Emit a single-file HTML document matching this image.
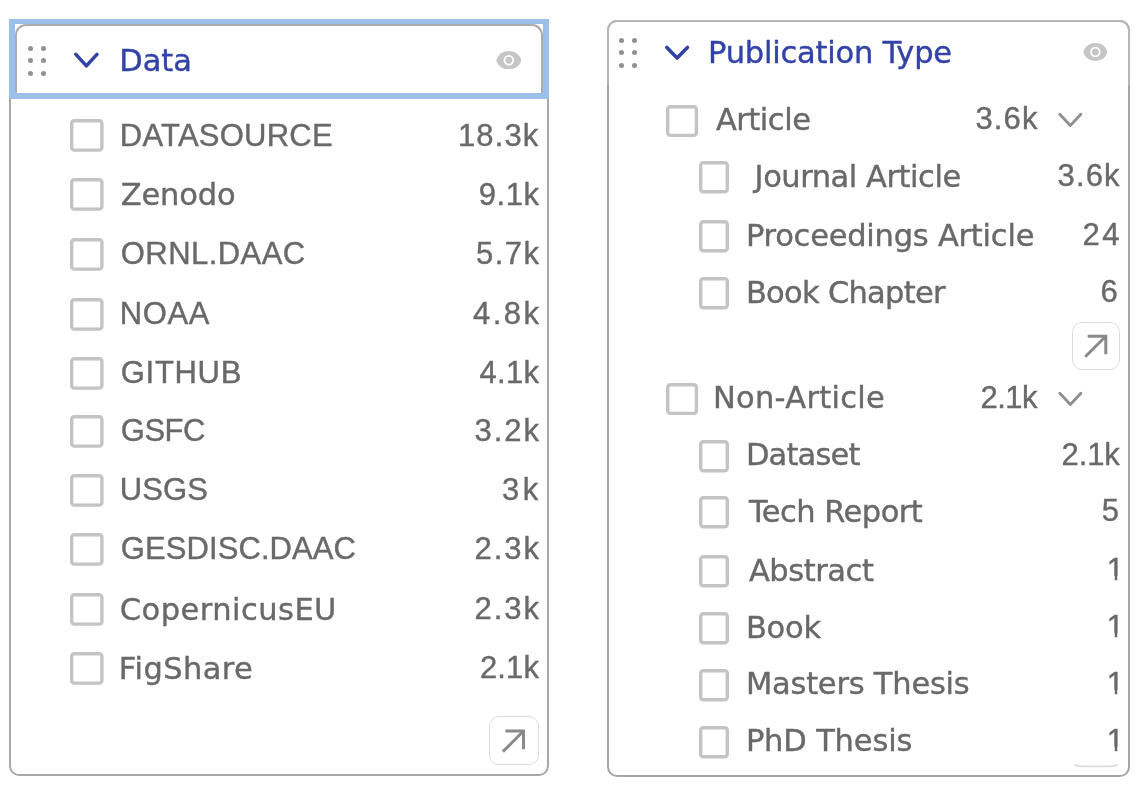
<!DOCTYPE html>
<html><head><meta charset="utf-8">
<style>
html,body{margin:0;padding:0;background:#fff;}
body{width:1144px;height:786px;overflow:hidden;position:relative;font-family:"DejaVu Sans","Liberation Sans",sans-serif;}
.a{position:absolute;}
.card{position:absolute;border:2px solid #a8a8a8;border-radius:10px;background:#fff;box-sizing:border-box;}
.t{position:absolute;font-size:30.5px;line-height:30.5px;color:#696969;white-space:nowrap;-webkit-text-stroke:0.4px #696969;}
.title{position:absolute;font-size:30.5px;line-height:30.5px;color:#3342a6;white-space:nowrap;-webkit-text-stroke:0.4px #3342a6;}
.lib{font-family:"Liberation Sans",sans-serif;font-size:31.0px;line-height:31.0px;}
.cb{position:absolute;border:3.4px solid #c4c4c4;border-radius:3.5px;box-sizing:border-box;background:#fff;}
.dot{position:absolute;border-radius:50%;background:#919191;}
.btn{position:absolute;border:1.5px solid #dcdcdc;border-radius:10px;box-sizing:border-box;background:#fff;}
</style></head><body>
<div class="card" style="left:9px;top:19px;width:540px;height:757px;"></div>
<div class="a" style="left:9px;top:19px;width:540px;height:80px;box-sizing:border-box;border:solid #9bc0ea;border-width:5px 6px 6px 6px;background:#fff;"></div>
<div class="a" style="left:15px;top:24px;width:528px;height:69px;box-sizing:border-box;border:2px solid #acacac;border-bottom:none;border-radius:11px 11px 0 0;"></div>
<div class="dot" style="left:27.90px;top:45.50px;width:5px;height:5px"></div>
<div class="dot" style="left:40.80px;top:45.50px;width:5px;height:5px"></div>
<div class="dot" style="left:27.90px;top:58.40px;width:5px;height:5px"></div>
<div class="dot" style="left:40.80px;top:58.40px;width:5px;height:5px"></div>
<div class="dot" style="left:27.90px;top:71.30px;width:5px;height:5px"></div>
<div class="dot" style="left:40.80px;top:71.30px;width:5px;height:5px"></div>
<svg class="a" style="left:71.10px;top:49.00px" width="30.80" height="23.00" viewBox="0 0 30.80 23.00"><path d="M4.86 5.40 L15.40 16.88 L25.94 5.40" fill="none" stroke="#3342a6" stroke-width="3.6" stroke-linecap="round" stroke-linejoin="round"/></svg>
<div class="title" style="left:119.20px;top:45.90px;letter-spacing:-0.03px;">Data</div>
<svg class="a" style="left:495.50px;top:50.65px" width="25.6" height="18.5" viewBox="0 0 25.6 18.5"><path d="M0.3 9.25 C3.58 -2.96 22.02 -2.96 25.30 9.25 C22.02 21.46 3.58 21.46 0.3 9.25 Z" fill="#c6c6c6"/><circle cx="12.8" cy="9.25" r="5.2" fill="#fff"/><circle cx="12.8" cy="9.25" r="3.4" fill="#c6c6c6"/></svg>
<svg class="a" style="left:69.10px;top:118.20px" width="35.60" height="34.80"><rect x="2.70" y="2.70" width="30.20" height="29.40" rx="2.6" fill="#fff" stroke="#c4c4c4" stroke-width="3.4"/></svg>
<div class="t lib" style="left:119.80px;top:119.70px;letter-spacing:0.24px;">DATASOURCE</div>
<div class="t lib" style="left:458.00px;top:119.70px;letter-spacing:1.10px;">18.3k</div>
<svg class="a" style="left:69.10px;top:177.00px" width="35.60" height="34.80"><rect x="2.70" y="2.70" width="30.20" height="29.40" rx="2.6" fill="#fff" stroke="#c4c4c4" stroke-width="3.4"/></svg>
<div class="t" style="left:120.80px;top:180.00px;letter-spacing:-0.18px;">Zenodo</div>
<div class="t lib" style="left:478.80px;top:178.50px;letter-spacing:0.53px;">9.1k</div>
<svg class="a" style="left:69.10px;top:236.80px" width="35.60" height="34.80"><rect x="2.70" y="2.70" width="30.20" height="29.40" rx="2.6" fill="#fff" stroke="#c4c4c4" stroke-width="3.4"/></svg>
<div class="t lib" style="left:120.80px;top:238.30px;letter-spacing:0.44px;">ORNL.DAAC</div>
<div class="t lib" style="left:476.10px;top:238.30px;letter-spacing:1.43px;">5.7k</div>
<svg class="a" style="left:69.10px;top:296.50px" width="35.60" height="34.80"><rect x="2.70" y="2.70" width="30.20" height="29.40" rx="2.6" fill="#fff" stroke="#c4c4c4" stroke-width="3.4"/></svg>
<div class="t lib" style="left:119.80px;top:298.00px;letter-spacing:0.60px;">NOAA</div>
<div class="t lib" style="left:473.10px;top:298.00px;letter-spacing:2.43px;">4.8k</div>
<svg class="a" style="left:69.10px;top:355.50px" width="35.60" height="34.80"><rect x="2.70" y="2.70" width="30.20" height="29.40" rx="2.6" fill="#fff" stroke="#c4c4c4" stroke-width="3.4"/></svg>
<div class="t lib" style="left:120.80px;top:357.00px;letter-spacing:0.68px;">GITHUB</div>
<div class="t lib" style="left:479.60px;top:357.00px;letter-spacing:0.27px;">4.1k</div>
<svg class="a" style="left:69.10px;top:413.80px" width="35.60" height="34.80"><rect x="2.70" y="2.70" width="30.20" height="29.40" rx="2.6" fill="#fff" stroke="#c4c4c4" stroke-width="3.4"/></svg>
<div class="t lib" style="left:120.80px;top:415.30px;letter-spacing:-0.50px;">GSFC</div>
<div class="t lib" style="left:474.50px;top:415.30px;letter-spacing:1.97px;">3.2k</div>
<svg class="a" style="left:69.10px;top:472.90px" width="35.60" height="34.80"><rect x="2.70" y="2.70" width="30.20" height="29.40" rx="2.6" fill="#fff" stroke="#c4c4c4" stroke-width="3.4"/></svg>
<div class="t lib" style="left:119.80px;top:474.40px;letter-spacing:0.07px;">USGS</div>
<div class="t lib" style="left:502.00px;top:474.40px;letter-spacing:3.40px;">3k</div>
<svg class="a" style="left:69.10px;top:531.50px" width="35.60" height="34.80"><rect x="2.70" y="2.70" width="30.20" height="29.40" rx="2.6" fill="#fff" stroke="#c4c4c4" stroke-width="3.4"/></svg>
<div class="t lib" style="left:120.80px;top:533.00px;letter-spacing:0.08px;">GESDISC.DAAC</div>
<div class="t lib" style="left:474.50px;top:533.00px;letter-spacing:1.97px;">2.3k</div>
<svg class="a" style="left:69.10px;top:591.80px" width="35.60" height="34.80"><rect x="2.70" y="2.70" width="30.20" height="29.40" rx="2.6" fill="#fff" stroke="#c4c4c4" stroke-width="3.4"/></svg>
<div class="t" style="left:119.80px;top:594.80px;letter-spacing:0.47px;">CopernicusEU</div>
<div class="t lib" style="left:474.50px;top:593.30px;letter-spacing:1.97px;">2.3k</div>
<svg class="a" style="left:69.10px;top:650.50px" width="35.60" height="34.80"><rect x="2.70" y="2.70" width="30.20" height="29.40" rx="2.6" fill="#fff" stroke="#c4c4c4" stroke-width="3.4"/></svg>
<div class="t" style="left:118.80px;top:653.50px;letter-spacing:0.40px;">FigShare</div>
<div class="t lib" style="left:479.90px;top:652.00px;letter-spacing:0.17px;">2.1k</div>
<div class="btn" style="left:489.3px;top:715.6px;width:49.4px;height:49.7px"></div>
<svg class="a" style="left:489.3px;top:715.6px" width="49.4" height="49.7" viewBox="0 0 49.4 49.7"><path d="M13.90 35.65 L34.50 15.05 M16.40 15.05 L34.50 15.05 L34.50 33.15" fill="none" stroke="#8a8a8a" stroke-width="3"/></svg>
<div class="card" style="left:607px;top:20px;width:523px;height:757px;border-color:#a6a6a6"></div>
<div class="a" style="left:607px;top:20px;width:523px;height:65px;box-sizing:border-box;border:2px solid #b6b6b6;border-bottom:none;border-radius:10px 10px 0 0;"></div>
<div class="dot" style="left:618.90px;top:37.70px;width:5px;height:5px"></div>
<div class="dot" style="left:631.80px;top:37.70px;width:5px;height:5px"></div>
<div class="dot" style="left:618.90px;top:50.20px;width:5px;height:5px"></div>
<div class="dot" style="left:631.80px;top:50.20px;width:5px;height:5px"></div>
<div class="dot" style="left:618.90px;top:62.70px;width:5px;height:5px"></div>
<div class="dot" style="left:631.80px;top:62.70px;width:5px;height:5px"></div>
<svg class="a" style="left:661.60px;top:42.30px" width="30.30" height="22.20" viewBox="0 0 30.30 22.20"><path d="M4.86 5.40 L15.15 16.08 L25.44 5.40" fill="none" stroke="#3342a6" stroke-width="3.6" stroke-linecap="round" stroke-linejoin="round"/></svg>
<div class="title" style="left:708.00px;top:38.10px;letter-spacing:-0.20px;">Publication Type</div>
<svg class="a" style="left:1083.40px;top:43.20px" width="24.8" height="18" viewBox="0 0 24.8 18"><path d="M0.3 9.00 C3.47 -2.88 21.33 -2.88 24.50 9.00 C21.33 20.88 3.47 20.88 0.3 9.00 Z" fill="#c6c6c6"/><circle cx="12.4" cy="9.0" r="5.2" fill="#fff"/><circle cx="12.4" cy="9.0" r="3.4" fill="#c6c6c6"/></svg>
<svg class="a" style="left:665.00px;top:103.60px" width="34.10" height="34.10"><rect x="2.70" y="2.70" width="28.70" height="28.70" rx="2.6" fill="#fff" stroke="#c4c4c4" stroke-width="3.4"/></svg>
<div class="t" style="left:715.90px;top:104.60px;letter-spacing:-0.47px;">Article</div>
<div class="t lib" style="left:975.50px;top:103.10px;letter-spacing:1.13px;">3.6k</div>
<svg class="a" style="left:1056.10px;top:110.40px" width="28.70" height="20.20" viewBox="0 0 28.70 20.20"><path d="M3.78 4.20 L14.35 15.44 L24.92 4.20" fill="none" stroke="#8e8e8e" stroke-width="2.8" stroke-linecap="round" stroke-linejoin="round"/></svg>
<svg class="a" style="left:698.30px;top:160.20px" width="32.00" height="34.40"><rect x="2.70" y="2.70" width="26.60" height="29.00" rx="2.6" fill="#fff" stroke="#c4c4c4" stroke-width="3.4"/></svg>
<div class="t" style="left:754.60px;top:161.70px;letter-spacing:-0.46px;">Journal Article</div>
<div class="t lib" style="left:1057.50px;top:160.20px;letter-spacing:1.17px;">3.6k</div>
<svg class="a" style="left:698.30px;top:219.00px" width="32.00" height="34.40"><rect x="2.70" y="2.70" width="26.60" height="29.00" rx="2.6" fill="#fff" stroke="#c4c4c4" stroke-width="3.4"/></svg>
<div class="t" style="left:745.90px;top:220.50px;letter-spacing:-0.23px;">Proceedings Article</div>
<div class="t lib" style="left:1082.50px;top:219.00px;letter-spacing:2.50px;">24</div>
<svg class="a" style="left:698.30px;top:276.10px" width="32.00" height="34.40"><rect x="2.70" y="2.70" width="26.60" height="29.00" rx="2.6" fill="#fff" stroke="#c4c4c4" stroke-width="3.4"/></svg>
<div class="t" style="left:745.90px;top:277.60px;letter-spacing:-0.72px;">Book Chapter</div>
<div class="t lib" style="left:1100.40px;top:276.10px;">6</div>
<div class="btn" style="left:1071.5px;top:322px;width:48px;height:48px"></div>
<svg class="a" style="left:1071.5px;top:322px" width="48" height="48" viewBox="0 0 48 48"><path d="M13.20 34.80 L33.80 14.20 M15.70 14.20 L33.80 14.20 L33.80 32.30" fill="none" stroke="#8a8a8a" stroke-width="3"/></svg>
<svg class="a" style="left:665.00px;top:382.20px" width="34.10" height="34.10"><rect x="2.70" y="2.70" width="28.70" height="28.70" rx="2.6" fill="#fff" stroke="#c4c4c4" stroke-width="3.4"/></svg>
<div class="t" style="left:712.90px;top:383.20px;letter-spacing:0.30px;">Non-Article</div>
<div class="t lib" style="left:980.50px;top:381.70px;letter-spacing:-0.50px;">2.1k</div>
<svg class="a" style="left:1056.10px;top:389.00px" width="28.70" height="20.20" viewBox="0 0 28.70 20.20"><path d="M3.78 4.20 L14.35 15.44 L24.92 4.20" fill="none" stroke="#8e8e8e" stroke-width="2.8" stroke-linecap="round" stroke-linejoin="round"/></svg>
<svg class="a" style="left:698.30px;top:438.60px" width="32.00" height="34.40"><rect x="2.70" y="2.70" width="26.60" height="29.00" rx="2.6" fill="#fff" stroke="#c4c4c4" stroke-width="3.4"/></svg>
<div class="t" style="left:745.90px;top:440.10px;letter-spacing:-0.82px;">Dataset</div>
<div class="t lib" style="left:1061.50px;top:438.60px;letter-spacing:-0.10px;">2.1k</div>
<svg class="a" style="left:698.30px;top:495.30px" width="32.00" height="34.40"><rect x="2.70" y="2.70" width="26.60" height="29.00" rx="2.6" fill="#fff" stroke="#c4c4c4" stroke-width="3.4"/></svg>
<div class="t" style="left:748.90px;top:496.80px;letter-spacing:-0.52px;">Tech Report</div>
<div class="t lib" style="left:1101.80px;top:495.30px;">5</div>
<svg class="a" style="left:698.30px;top:554.00px" width="32.00" height="34.40"><rect x="2.70" y="2.70" width="26.60" height="29.00" rx="2.6" fill="#fff" stroke="#c4c4c4" stroke-width="3.4"/></svg>
<div class="t" style="left:748.90px;top:555.50px;letter-spacing:-0.43px;">Abstract</div>
<div class="t lib" style="left:1106.70px;top:554.00px;clip-path:polygon(0 0,100% 0,100% 22px,10.55px 22px,10.55px 100%,8.1px 100%,8.1px 22px,0 22px)">1</div>
<svg class="a" style="left:698.30px;top:611.20px" width="32.00" height="34.40"><rect x="2.70" y="2.70" width="26.60" height="29.00" rx="2.6" fill="#fff" stroke="#c4c4c4" stroke-width="3.4"/></svg>
<div class="t" style="left:745.90px;top:612.70px;letter-spacing:-0.23px;">Book</div>
<div class="t lib" style="left:1106.70px;top:611.20px;clip-path:polygon(0 0,100% 0,100% 22px,10.55px 22px,10.55px 100%,8.1px 100%,8.1px 22px,0 22px)">1</div>
<svg class="a" style="left:698.30px;top:667.90px" width="32.00" height="34.40"><rect x="2.70" y="2.70" width="26.60" height="29.00" rx="2.6" fill="#fff" stroke="#c4c4c4" stroke-width="3.4"/></svg>
<div class="t" style="left:745.90px;top:669.40px;letter-spacing:-0.22px;">Masters Thesis</div>
<div class="t lib" style="left:1106.70px;top:667.90px;clip-path:polygon(0 0,100% 0,100% 22px,10.55px 22px,10.55px 100%,8.1px 100%,8.1px 22px,0 22px)">1</div>
<svg class="a" style="left:698.30px;top:724.70px" width="32.00" height="34.40"><rect x="2.70" y="2.70" width="26.60" height="29.00" rx="2.6" fill="#fff" stroke="#c4c4c4" stroke-width="3.4"/></svg>
<div class="t" style="left:745.90px;top:726.20px;letter-spacing:-0.16px;">PhD Thesis</div>
<div class="t lib" style="left:1106.70px;top:724.70px;clip-path:polygon(0 0,100% 0,100% 22px,10.55px 22px,10.55px 100%,8.1px 100%,8.1px 22px,0 22px)">1</div>
<svg class="a" style="left:1072px;top:760px" width="48" height="10" viewBox="0 0 48 10"><path d="M2.5 4.6 Q5 6.4 10 6.4 L38 6.4 Q43 6.4 45.5 4.6" fill="none" stroke="#dcdcdc" stroke-width="1.8"/></svg>
</body></html>
